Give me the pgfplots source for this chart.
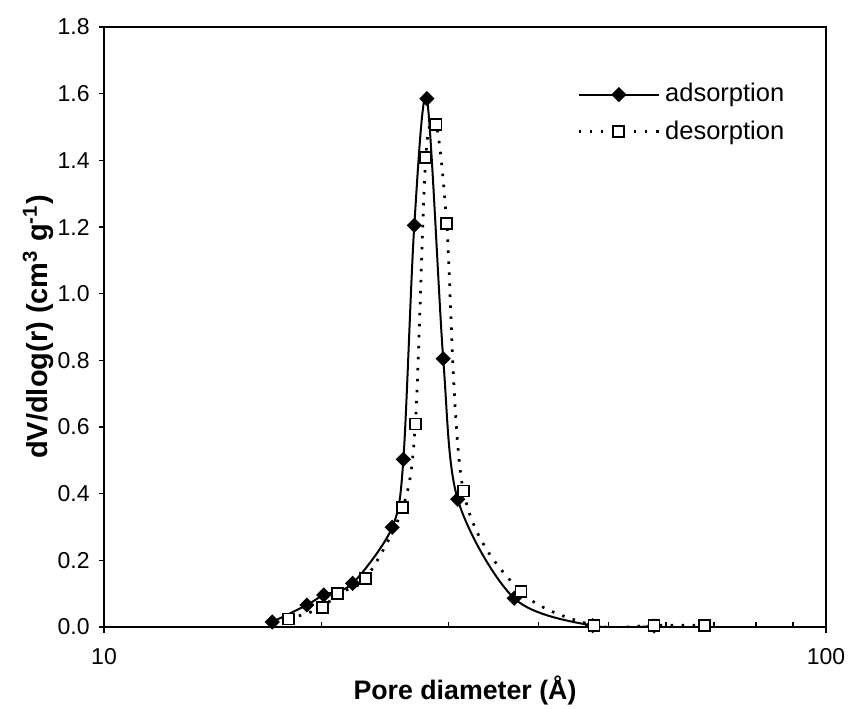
\documentclass[border=0pt]{standalone}
\usepackage{pgfplots}
\pgfplotsset{compat=1.18}
\usepackage{fontspec}
\setmainfont{Liberation Sans}

\begin{document}
\begin{tikzpicture}
\begin{axis}[
    xmode=log,
    scale only axis,
    width=288.8pt, height=240pt,
    xmin=10, xmax=100,
    ymin=0, ymax=1.8,
    axis line style={line width=1.1pt},
    xtick={10,100},
    xticklabels={10,100},
    minor xtick={20,30,40,50,60,70,80,90},
    ytick={0,0.2,0.4,0.6,0.8,1.0,1.2,1.4,1.6,1.8},
    xtick pos=bottom, ytick pos=left,
    tick align=outside,
    major tick length=2.2pt,
    minor tick length=2.2pt,
    minor x tick style={yshift=2.2pt},
    tick style={black, line width=0.6pt},
    /pgf/number format/assume math mode=true,
    yticklabel style={/pgf/number format/fixed, /pgf/number format/fixed zerofill,
        /pgf/number format/precision=1, font=\fontsize{9.2}{10}\selectfont},
    xticklabel style={font=\fontsize{9.2}{10}\selectfont, yshift=-3pt},
    log ticks with fixed point,
    xlabel={\textbf{Pore diameter (Å)}},
    ylabel={\textbf{dV/dlog(r) (cm\textsuperscript{3} g\textsuperscript{-1})}},
    xlabel style={font=\fontsize{10.7}{12}\selectfont, at={(axis description cs:0.5,-0.105)}, anchor=center},
    ylabel style={font=\fontsize{11.6}{13}\selectfont, at={(axis description cs:-0.091,0.5)}, anchor=center},
    legend style={draw=none, fill=none, at={(axis description cs:0.655,0.915)}, anchor=north west,
        font=\fontsize{10.2}{12}\selectfont, row sep=2pt, inner sep=0pt},
    legend cell align=left,
    legend image code/.code={\draw[mark repeat=2,mark phase=2,#1] plot coordinates {(0pt,0pt) (16pt,0pt) (32pt,0pt)};},
]

\addplot[black, line width=0.8pt, smooth, tension=0.5, mark=square*,
    mark size=1.75pt, mark options={solid, rotate=45, fill=black}] coordinates {
(17.1,0.015)
(19.1,0.066)
(20.15,0.096)
(22.1,0.131)
(25.07,0.299)
(25.98,0.503)
(26.9,1.205)
(28.0,1.585)
(29.5,0.805)
(30.9,0.383)
(37.0,0.086)
(47.5,0.004)
(57.8,0.003)
};
\addlegendentry{adsorption}

\addplot[black, line width=1.1pt, dash pattern=on 1pt off 3.4pt, smooth, tension=0.5, mark=square*,
    mark size=2.2pt, mark options={solid, fill=white, line width=0.7pt}] coordinates {
(18.0,0.024)
(20.06,0.058)
(21.04,0.101)
(23.04,0.146)
(25.93,0.358)
(26.99,0.609)
(27.9,1.409)
(28.83,1.508)
(29.83,1.211)
(31.46,0.408)
(37.8,0.106)
(47.7,0.005)
(57.8,0.005)
(67.8,0.005)
};
\addlegendentry{desorption}

\coordinate (bl) at (rel axis cs:0,0);
\end{axis}
\pgfresetboundingbox
\path[use as bounding box] (bl) ++(-41.6pt,-32.4pt) rectangle ++(339.2pt,283.2pt);
\end{tikzpicture}
\end{document}
